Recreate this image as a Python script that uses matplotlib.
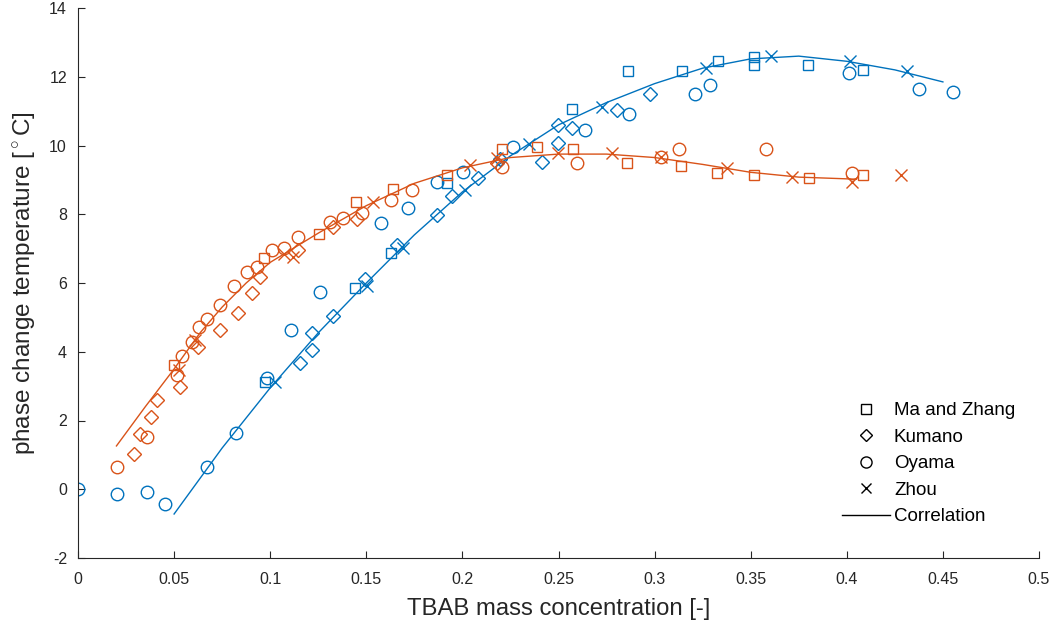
import matplotlib
matplotlib.use("Agg")
import matplotlib.pyplot as plt
from matplotlib.lines import Line2D

BLUE = "#0072BD"
ORANGE = "#D95319"

# ---- Blue group ----
b_ma_x = [0.0973, 0.1441, 0.1629, 0.192, 0.257, 0.286, 0.3143, 0.333, 0.3517, 0.3517, 0.380, 0.4085]
b_ma_y = [3.13, 5.85, 6.87, 8.92, 11.07, 12.17, 12.17, 12.45, 12.57, 12.35, 12.35, 12.2]
b_ku_x = [0.1155, 0.122, 0.122, 0.1327, 0.1493, 0.166, 0.1868, 0.1946, 0.208, 0.2195, 0.2414, 0.2497, 0.2497, 0.257, 0.2804, 0.2976]
b_ku_y = [3.67, 4.06, 4.55, 5.03, 6.12, 7.10, 7.97, 8.52, 9.05, 9.62, 9.52, 10.06, 10.6, 10.5, 11.03, 11.5]
b_oy_x = [0.0, 0.0203, 0.0359, 0.0453, 0.0671, 0.0822, 0.0983, 0.111, 0.1259, 0.1575, 0.1717, 0.1868, 0.2003, 0.2263, 0.264, 0.2867, 0.321, 0.3288, 0.401, 0.4376, 0.455]
b_oy_y = [0.0, -0.13, -0.08, -0.43, 0.65, 1.64, 3.23, 4.63, 5.74, 7.75, 8.18, 8.94, 9.23, 9.95, 10.45, 10.92, 11.5, 11.76, 12.1, 11.64, 11.56]
b_zh_x = [0.1025, 0.1504, 0.169, 0.2013, 0.2346, 0.2726, 0.3267, 0.3605, 0.4017, 0.4313]
b_zh_y = [3.12, 5.9, 7.02, 8.7, 10.05, 11.12, 12.25, 12.6, 12.47, 12.17]
b_cor_x = [0.05, 0.075, 0.1, 0.125, 0.15, 0.175, 0.2, 0.225, 0.25, 0.275, 0.3, 0.325, 0.35, 0.375, 0.4, 0.425, 0.45]
b_cor_y = [-0.72, 1.2, 2.95, 4.55, 6.0, 7.4, 8.65, 9.7, 10.6, 11.25, 11.8, 12.25, 12.52, 12.6, 12.45, 12.2, 11.85]

# ---- Orange group ----
o_ma_x = [0.05, 0.0968, 0.1254, 0.1446, 0.164, 0.192, 0.2206, 0.2388, 0.2576, 0.2856, 0.3137, 0.3325, 0.3517, 0.3803, 0.4085]
o_ma_y = [3.62, 6.72, 7.43, 8.36, 8.73, 9.15, 9.9, 9.97, 9.9, 9.5, 9.4, 9.21, 9.13, 9.05, 9.13]
o_ku_x = [0.029, 0.032, 0.038, 0.041, 0.053, 0.0625, 0.074, 0.083, 0.0905, 0.0947, 0.1145, 0.1327, 0.145, 0.218]
o_ku_y = [1.02, 1.6, 2.1, 2.6, 2.98, 4.15, 4.64, 5.13, 5.71, 6.18, 6.96, 7.62, 7.85, 9.5]
o_oy_x = [0.0203, 0.036, 0.0515, 0.054, 0.0593, 0.063, 0.067, 0.074, 0.081, 0.088, 0.093, 0.101, 0.107, 0.1145, 0.131, 0.138, 0.148, 0.163, 0.174, 0.2206, 0.2596, 0.3033, 0.3127, 0.358, 0.4027]
o_oy_y = [0.65, 1.52, 3.33, 3.88, 4.28, 4.73, 4.95, 5.36, 5.92, 6.33, 6.48, 6.96, 7.03, 7.33, 7.78, 7.89, 8.04, 8.42, 8.72, 9.37, 9.49, 9.67, 9.9, 9.9, 9.2]
o_zh_x = [0.0526, 0.061, 0.107, 0.112, 0.1535, 0.204, 0.218, 0.2497, 0.278, 0.3033, 0.3377, 0.3715, 0.4027, 0.428]
o_zh_y = [3.47, 4.34, 6.85, 6.76, 8.36, 9.43, 9.64, 9.78, 9.78, 9.67, 9.35, 9.08, 8.95, 9.15]
o_cor_x = [0.02, 0.035, 0.05, 0.0635, 0.075, 0.0875, 0.1, 0.125, 0.15, 0.175, 0.2, 0.225, 0.25, 0.275, 0.3, 0.325, 0.35, 0.375, 0.405]
o_cor_y = [1.26, 2.4, 3.5, 4.55, 5.3, 6.0, 6.6, 7.45, 8.25, 8.9, 9.35, 9.65, 9.75, 9.75, 9.65, 9.45, 9.22, 9.08, 9.02]

legend_labels = ["Ma and Zhang", "Kumano", "Oyama", "Zhou", "Correlation"]

plt.rcParams['font.family'] = ['Liberation Sans', 'DejaVu Sans']
plt.rcParams['mathtext.fontset'] = 'custom'
plt.rcParams['mathtext.rm'] = 'Liberation Sans'
plt.rcParams['axes.unicode_minus'] = False

fig = plt.figure(figsize=(10.59, 6.35), dpi=100)
ax = fig.add_axes([78/1059, 77/635, 961/1059, 550/635])

mk = dict(linestyle='none', markerfacecolor='none', markeredgewidth=1.0)
for col, (mx, my), (kx, ky), (ox, oy), (zx, zy), (cx, cy) in [
    (BLUE, (b_ma_x, b_ma_y), (b_ku_x, b_ku_y), (b_oy_x, b_oy_y), (b_zh_x, b_zh_y), (b_cor_x, b_cor_y)),
    (ORANGE, (o_ma_x, o_ma_y), (o_ku_x, o_ku_y), (o_oy_x, o_oy_y), (o_zh_x, o_zh_y), (o_cor_x, o_cor_y)),
]:
    ax.plot(cx, cy, color=col, lw=1.0)
    ax.plot(mx, my, marker='s', markersize=7.5, markeredgecolor=col, **mk)
    ax.plot(kx, ky, marker='D', markersize=7, markeredgecolor=col, **mk)
    ax.plot(ox, oy, marker='o', markersize=9, markeredgecolor=col, **mk)
    ax.plot(zx, zy, marker='x', markersize=8.5, markeredgecolor=col, **mk)

ax.set_xlim(0, 0.5)
ax.set_ylim(-2, 14)
ax.set_xticks([0, 0.05, 0.1, 0.15, 0.2, 0.25, 0.3, 0.35, 0.4, 0.45, 0.5])
ax.set_xticklabels(["0", "0.05", "0.1", "0.15", "0.2", "0.25", "0.3", "0.35", "0.4", "0.45", "0.5"])
ax.set_yticks(range(-2, 15, 2))
ax.spines['top'].set_visible(False)
ax.spines['right'].set_visible(False)
for s in ['left', 'bottom']:
    ax.spines[s].set_color('#262626')
    ax.spines[s].set_linewidth(0.8)
ax.tick_params(direction='in', length=5, width=0.8, colors='#262626', labelsize=11.5)
ax.tick_params(axis='x', pad=10)
ax.tick_params(axis='y', pad=8)
ax.set_xlabel("TBAB mass concentration [-]", fontsize=17.2, color='#262626', labelpad=8)
ax.set_ylabel(r"phase change temperature [$^\circ$C]", fontsize=17.5, color='#262626', labelpad=8)

handles = [
    Line2D([], [], marker='s', markersize=7, color='black', linestyle='none', markerfacecolor='none'),
    Line2D([], [], marker='D', markersize=6.5, color='black', linestyle='none', markerfacecolor='none'),
    Line2D([], [], marker='o', markersize=8, color='black', linestyle='none', markerfacecolor='none'),
    Line2D([], [], marker='x', markersize=7, color='black', linestyle='none'),
    Line2D([], [], color='black', lw=1.0),
]
ax.legend(handles, legend_labels, loc='lower right', bbox_to_anchor=(0.983, 0.046),
          frameon=False, fontsize=13.5, handlelength=2.56, handletextpad=0.22,
          labelspacing=0.5, borderaxespad=0)

fig.savefig("out.png", dpi=100)
